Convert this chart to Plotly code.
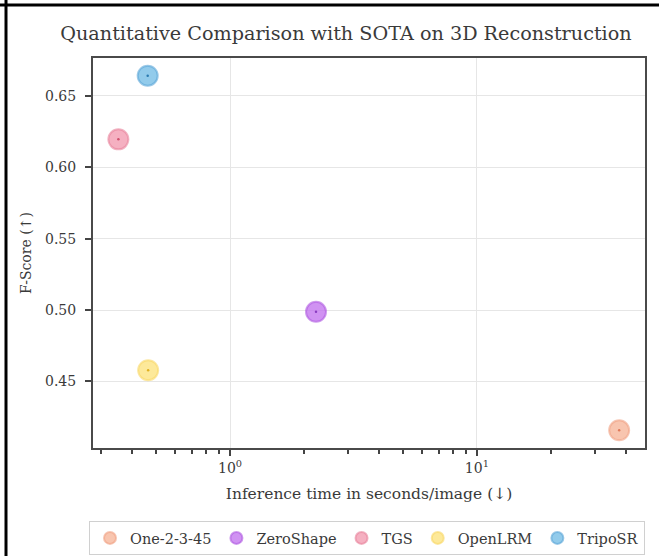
import plotly.graph_objects as go

methods = ["One-2-3-45", "ZeroShape", "TGS", "OpenLRM", "TripoSR"]
inference_time = [37.7, 2.23, 0.353, 0.466, 0.464]
f_score = [0.4158, 0.4988, 0.6196, 0.4579, 0.6642]
fill_colors = ["rgba(246,178,148,0.75)", "rgba(195,115,238,0.78)", "rgba(242,150,172,0.75)",
               "rgba(252,226,120,0.75)", "rgba(110,185,228,0.75)"]
edge_colors = ["rgba(240,160,130,0.6)", "rgba(175,90,225,0.6)", "rgba(232,130,155,0.6)",
               "rgba(248,215,100,0.6)", "rgba(90,165,215,0.6)"]
dot_colors = ["#e07a5a", "#8a3cc0", "#d0506e", "#e0b020", "#2a7ab0"]

FONT = "DejaVu Serif"
TXT = "#3a3a3a"

fig = go.Figure()
for m, x, y, fc, ec, dc in zip(methods, inference_time, f_score, fill_colors, edge_colors, dot_colors):
    fig.add_trace(go.Scatter(x=[x], y=[y], mode="markers", name=m,
                             marker=dict(size=20, color=fc, line=dict(color=ec, width=2))))
    fig.add_trace(go.Scatter(x=[x], y=[y], mode="markers", showlegend=False, hoverinfo="skip",
                             marker=dict(size=2.5, color=dc)))

minor_vals = [v * d for d in (0.1, 1, 10) for v in range(2, 10)]

fig.update_layout(
    width=659, height=556,
    paper_bgcolor="white", plot_bgcolor="white",
    margin=dict(l=93, r=14, t=58, b=108),
    font=dict(family=FONT, color=TXT, size=14),
    title=dict(text="Quantitative Comparison with SOTA on 3D Reconstruction",
               x=0.525, xanchor="center", y=1 - 33 / 556, yanchor="middle",
               font=dict(size=19.2, family=FONT, color=TXT)),
    showlegend=True,
    legend=dict(orientation="h", xref="container", x=89 / 659, xanchor="left",
                yref="container", y=1 - 521 / 556, yanchor="top",
                bordercolor="#d0d0d0", borderwidth=1, bgcolor="white", itemsizing="constant",
                itemwidth=30, tracegroupgap=0,
                font=dict(size=14.5, family=FONT, color=TXT)),
)
fig.update_xaxes(type="log", range=[-0.555, 1.681], automargin=False,
                 tickvals=[1, 10], ticktext=["10<sup>0</sup>", "10<sup>1</sup>"],
                 ticks="outside", ticklen=6, tickwidth=1.5, tickcolor="#444",
                 tickfont=dict(size=14),
                 minor=dict(tickvals=minor_vals, ticks="outside", ticklen=3.5, tickcolor="#444", showgrid=False),
                 showgrid=True, gridcolor="#e6e6e6", gridwidth=1,
                 showline=True, linecolor="#4a4a4a", linewidth=2, mirror=True,
                 zeroline=False,
                 title=dict(text="Inference time in seconds/image (↓)", standoff=13,
                            font=dict(size=15.5, family=FONT)))
fig.update_yaxes(range=[0.4034, 0.6766], automargin=False,
                 tickvals=[0.45, 0.50, 0.55, 0.60, 0.65],
                 ticktext=["0.45", "0.50", "0.55", "0.60", "0.65"],
                 ticks="outside", ticklen=6, tickwidth=1.5, tickcolor="#444",
                 ticklabelstandoff=6,
                 tickfont=dict(size=14),
                 showgrid=True, gridcolor="#e6e6e6", gridwidth=1,
                 showline=True, linecolor="#4a4a4a", linewidth=2, mirror=True,
                 zeroline=False,
                 title=dict(text="F-Score (↑)", standoff=10, font=dict(size=14, family=FONT)))

# outer image frame (left and top)
fig.add_shape(type="line", xref="paper", yref="paper", x0=-0.1576, x1=-0.1576, y0=-0.4, y1=1.2,
              line=dict(color="black", width=3))
fig.add_shape(type="line", xref="paper", yref="paper", x0=-0.2, x1=1.1, y0=1.1359, y1=1.1359,
              line=dict(color="black", width=3))

fig.write_html("out.html", config={"displayModeBar": False},
               post_script="document.body.style.margin='0px';document.body.style.overflow='hidden';")
